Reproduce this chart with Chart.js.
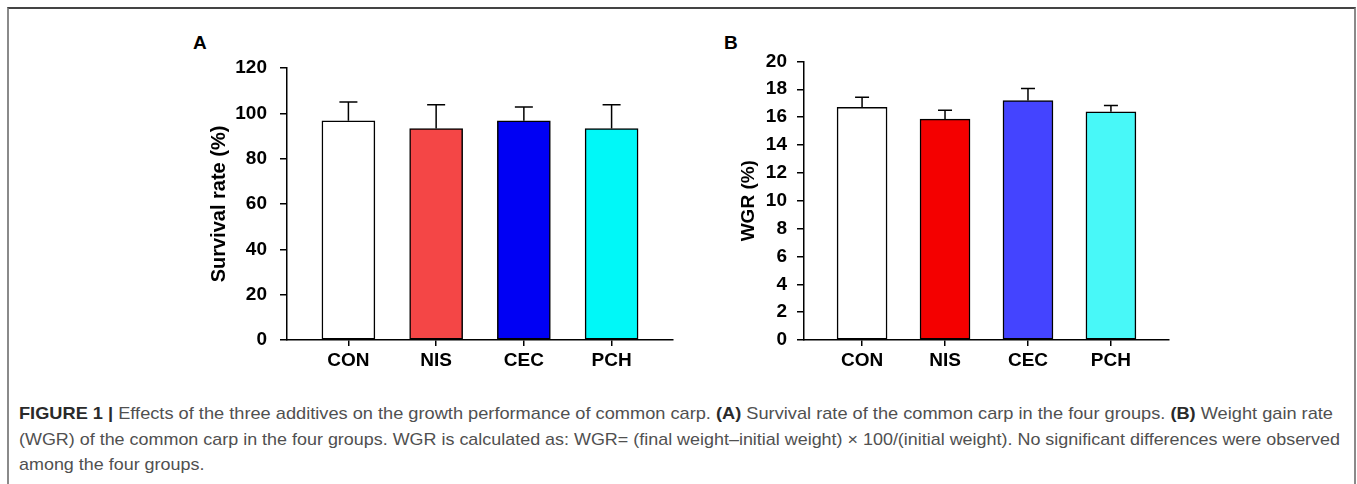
<!DOCTYPE html>
<html>
<head>
<meta charset="utf-8">
<script src="https://cdn.jsdelivr.net/npm/chart.js@4.4.1/dist/chart.umd.min.js"></script>
<style>
  body { margin: 0; background: #fff; width: 1357px; height: 484px; overflow: hidden; position: relative;
         font-family: "Liberation Sans", Arial, sans-serif; }
  .frame { position: absolute; left: 7px; top: 7px; width: 1345px; height: 500px;
           border-top: 2px solid #444; border-left: 2px solid #8a8a8a; border-right: 2px solid #8a8a8a; }
  .panel { position: absolute; }
  .tag { position: absolute; font-weight: bold; font-size: 19px; color: #000; }
  .cap { position: absolute; left: 19px; font-size: 17px; color: #505050; white-space: nowrap; transform-origin: 0 0; }
  .cap b { color: #2a2a2a; }
</style>
</head>
<body>
<div class="frame"></div>
<div class="tag" style="left:193px;top:32px">A</div>
<div class="tag" style="left:724px;top:32px">B</div>
<div class="panel" style="left:180px;top:40px"><canvas id="chart-a" width="500" height="330"></canvas></div>
<div class="panel" style="left:700px;top:40px"><canvas id="chart-b" width="480" height="330"></canvas></div>

<div class="cap" id="cap1" data-w="1314" style="top:404px"><b>FIGURE 1 |</b> Effects of the three additives on the growth performance of common carp. <b>(A)</b> Survival rate of the common carp in the four groups. <b>(B)</b> Weight gain rate</div>
<div class="cap" id="cap2" data-w="1321" style="top:430px">(WGR) of the common carp in the four groups. WGR is calculated as: WGR= (final weight&#8211;initial weight) &#215; 100/(initial weight). No significant differences were observed</div>
<div class="cap" id="cap3" style="top:455px">among the four groups.</div>

<script>
// groups on the x axis
const groups = ['CON', 'NIS', 'CEC', 'PCH'];

// panel A: survival rate (%)
const survivalMean = [96.7, 93.3, 96.7, 93.3];
const survivalErr  = [8.3, 10.5, 6.1, 10.5];
const survivalColors = ['#ffffff', '#f44646', '#0000f4', '#00f8f8'];

// panel B: weight gain rate (%)
const wgrMean = [16.71, 15.86, 17.19, 16.38];
const wgrErr  = [0.72, 0.64, 0.86, 0.45];
const wgrColors = ['#ffffff', '#f40000', '#4444ff', '#48f8f8'];

// only the upper half of the error bar, with a cap
const errorBars = {
  id: 'errorBars',
  afterDatasetsDraw(chart, args, opts) {
    const { ctx, scales: { x, y } } = chart;
    ctx.save();
    ctx.strokeStyle = '#000';
    ctx.lineWidth = 1.5;
    opts.means.forEach((m, i) => {
      const px = x.getPixelForValue(i + 1);
      const y0 = y.getPixelForValue(m);
      const y1 = y.getPixelForValue(m + opts.errs[i]);
      ctx.beginPath();
      ctx.moveTo(px, y0);
      ctx.lineTo(px, y1);
      ctx.moveTo(px - opts.cap / 2, y1);
      ctx.lineTo(px + opts.cap / 2, y1);
      ctx.stroke();
    });
    ctx.restore();
  }
};

const font = (size) => ({ family: '"Liberation Sans", Arial, sans-serif', size, weight: 'bold' });

function makeChart(id, cfg) {
  const ctx = document.getElementById(id).getContext('2d');
  return new Chart(ctx, {
    type: 'bar',
    data: {
      datasets: [{
        data: cfg.means.map((v, i) => ({ x: i + 1, y: v })),
        backgroundColor: cfg.colors,
        borderColor: '#000',
        borderWidth: 1.5,
        borderSkipped: false,
        barThickness: cfg.barWidth
      }]
    },
    options: {
      responsive: false,
      devicePixelRatio: 1,
      animation: false,
      layout: { padding: { top: cfg.padTop, right: cfg.padRight, left: 0, bottom: 0 } },
      plugins: {
        legend: { display: false },
        tooltip: { enabled: false },
        errorBars: { means: cfg.means, errs: cfg.errs, cap: cfg.cap }
      },
      scales: {
        x: {
          type: 'linear', min: 0.3, max: 4.7, offset: false,
          afterBuildTicks: s => { s.ticks = groups.map((g, i) => ({ value: i + 1 })); },
          afterFit: s => { s.height = 30; },
          ticks: { callback: (v, i) => groups[i], font: font(19), color: '#000', padding: 3, maxRotation: 0, autoSkip: false },
          grid: { drawOnChartArea: false, offset: false, tickLength: 6, color: '#000', lineWidth: 1.5 },
          border: { color: '#000', width: 1.5 }
        },
        y: {
          min: 0, max: cfg.yMax,
          afterFit: s => { s.width = cfg.yWidth; },
          ticks: { stepSize: cfg.yStep, font: font(19), color: '#000', padding: cfg.tickPad },
          grid: { drawOnChartArea: false, tickLength: 7, color: '#000', lineWidth: 1.5 },
          border: { color: '#000', width: 1.5 },
          title: { display: true, text: cfg.title, font: font(cfg.titleSize), color: '#000', padding: { top: cfg.titlePad, bottom: 0 } }
        }
      }
    },
    plugins: [errorBars]
  });
}

makeChart('chart-a', {
  means: survivalMean, errs: survivalErr, colors: survivalColors,
  barWidth: 53, cap: 18, yMax: 120, yStep: 20, title: 'Survival rate (%)', titleSize: 20,
  yWidth: 107, padTop: 28, padRight: 7, tickPad: 13, titlePad: 27
});

makeChart('chart-b', {
  means: wgrMean, errs: wgrErr, colors: wgrColors,
  barWidth: 50, cap: 14, yMax: 20, yStep: 2, title: 'WGR (%)', titleSize: 19,
  yWidth: 104, padTop: 20, padRight: 11, tickPad: 10, titlePad: 37
});

// stretch the two full caption lines to the printed width, last line uses the same stretch
let stretch = 1;
document.querySelectorAll('.cap[data-w]').forEach(el => {
  const w = el.getBoundingClientRect().width;
  stretch = parseFloat(el.dataset.w) / w;
  el.style.transform = 'scaleX(' + stretch + ')';
});
document.getElementById('cap3').style.transform = 'scaleX(' + stretch + ')';
</script>
</body>
</html>
